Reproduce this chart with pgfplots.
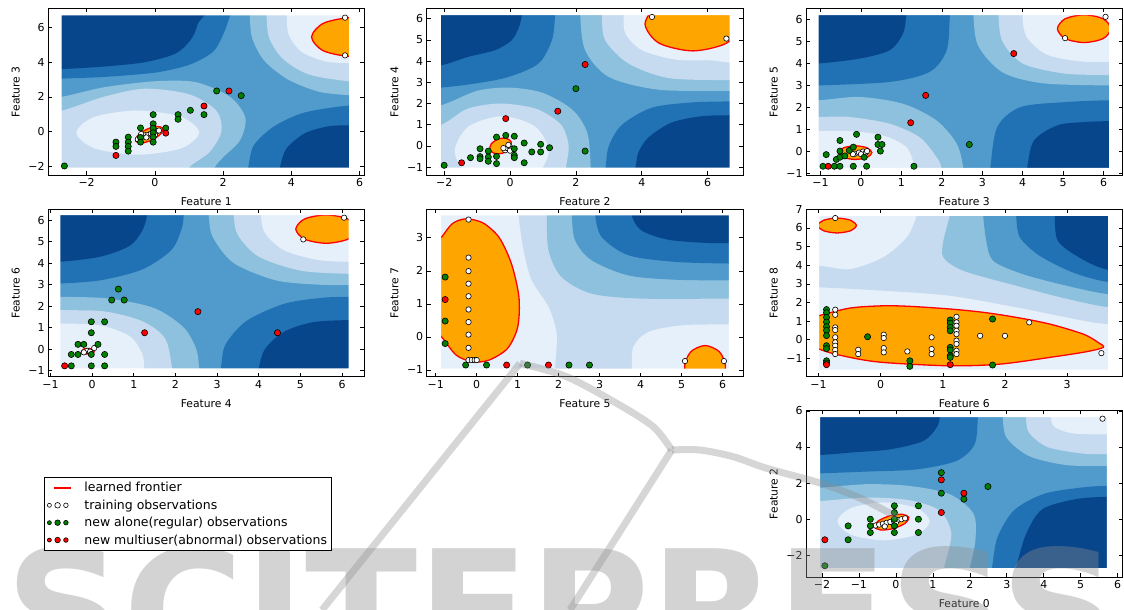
\documentclass[border=0pt]{standalone}
\usepackage{fontspec}
\setmainfont{DejaVu Sans}
\usepackage{pgfplots}
\pgfplotsset{compat=1.18}
\definecolor{c0}{RGB}{8,70,140}
\definecolor{c1}{RGB}{33,113,181}
\definecolor{c2}{RGB}{80,155,203}
\definecolor{c3}{RGB}{141,193,221}
\definecolor{c4}{RGB}{198,219,239}
\definecolor{c5}{RGB}{230,240,250}
\definecolor{myorange}{RGB}{255,165,0}
\definecolor{mgreen}{RGB}{0,128,0}
\definecolor{mred}{RGB}{255,0,0}
\pgfplotsset{
  sub/.style={scale only axis, width=316.5bp, height=167.3bp, anchor=north west,
    axis on top, clip=true,
    tick label style={font=\fontsize{11}{13}\selectfont},
    label style={font=\fontsize{10.8}{13}\selectfont},
    major tick length=4bp, tick style={line width=0.6bp, black},
    axis line style={line width=0.9bp},
    xlabel style={at={(axis description cs:0.5,-0.16)}, anchor=center},
    ylabel style={at={(axis description cs:-0.102,0.5)}, anchor=center},
    axis background/.style={fill=c2}},
  cband/.style={draw=none, fill=#1, smooth cycle, forget plot},
  front/.style={fill=myorange, draw=mred, line width=1.3bp, smooth cycle, forget plot},
  mask/.style={fill=white, draw=none, even odd rule, forget plot},
  train/.style={only marks, mark=*, mark size=2.7bp, mark options={fill=white, draw=black, line width=0.6bp}},
  newg/.style={only marks, mark=*, mark size=3.1bp, mark options={fill=mgreen, draw=black, line width=0.6bp}},
  newr/.style={only marks, mark=*, mark size=3.1bp, mark options={fill=mred, draw=black, line width=0.6bp}},
  wm/.style={forget plot, smooth, line width=7bp, color=black!45, opacity=0.36},
}
\begin{document}
\begin{tikzpicture}
\useasboundingbox (0,0) rectangle (1124bp,-610bp);
% ---------------- Subplot 1: Feature 1 / Feature 3
\begin{axis}[sub, at={(48bp,-8bp)}, xmin=-3.13, xmax=6.14, ymin=-2.54, ymax=7.14,
  xtick={-2,0,2,4,6}, xticklabels={−2,0,2,4,6}, ytick={-2,0,2,4,6}, yticklabels={−2,0,2,4,6},
  xlabel={Feature 1}, ylabel={Feature 3}]
\addplot[cband=c1] coordinates {(-3.6,2.9) (-2.73,3.05) (-1.5,3.15) (0,3.4) (1.0,3.85) (1.7,4.6) (2.0,5.6) (2.2,6.72) (2.3,7.7) (-3.6,7.7)};
\addplot[cband=c0] coordinates {(-3.6,3.5) (-2.73,3.6) (-1.5,3.75) (-0.3,4.0) (0.6,4.5) (1.05,5.3) (1.25,6.2) (1.35,7.7) (-3.6,7.7)};
\addplot[cband=c1] coordinates {(2.6,-3.1) (2.73,-2.1) (2.9,-0.8) (3.5,0.3) (4.4,1.1) (5.69,1.5) (6.6,1.55) (6.6,-3.1)};
\addplot[cband=c0] coordinates {(3.55,-3.1) (3.66,-2.1) (3.85,-1.0) (4.4,-0.1) (5.1,0.3) (5.69,0.35) (6.6,0.4) (6.6,-3.1)};
\addplot[cband=c3] coordinates {(-3.6,1.9) (-2.73,2.0) (-1.5,2.55) (0,2.9) (1.2,2.85) (2.2,2.0) (2.65,0.8) (2.5,-0.5) (2.0,-1.5) (1.75,-2.1) (1.6,-3.1) (-3.6,-3.1)};
\addplot[cband=c4] coordinates {(-3.6,1.1) (-2.73,1.2) (-1.5,2.0) (-0.3,2.47) (1.0,2.15) (1.8,1.2) (1.95,0) (1.6,-1.2) (1.0,-2.1) (0.9,-3.1) (-3.6,-3.1)};
\addplot[cband=c5] coordinates {(1.3,-0.07) (0.77,0.84) (-0.5,1.21) (-1.77,0.84) (-2.3,-0.07) (-1.77,-0.98) (-0.5,-1.35) (0.77,-0.98)};
\addplot[front] coordinates {(0.234,0.174) (0.168,-0.154) (-0.092,-0.508) (-0.395,-0.676) (-0.564,-0.56) (-0.5,-0.232) (-0.24,0.122) (0.063,0.29)};
\addplot[cband=c3] coordinates {(2.78,7.7) (2.78,6.72) (2.85,5.4) (3.2,4.1) (3.9,3.0) (4.8,2.3) (5.69,2.1) (6.6,2.1) (6.6,7.7)};
\addplot[cband=c4] coordinates {(3.27,7.7) (3.27,6.72) (3.35,5.4) (3.75,4.2) (4.5,3.3) (5.69,2.9) (6.6,2.9) (6.6,7.7)};
\addplot[cband=c5] coordinates {(3.86,7.7) (3.86,6.72) (3.92,5.6) (4.3,4.6) (5.0,4.05) (5.69,3.95) (6.6,3.95) (6.6,7.7)};
\addplot[front] coordinates {(7.01,5.46) (6.66,6.26) (5.8,6.59) (4.94,6.26) (4.59,5.46) (4.94,4.66) (5.8,4.33) (6.66,4.66)};
\addplot[mask] coordinates {(-4,-3.5) (7,-3.5) (7,8) (-4,8) (-4,-3.5) (-2.73,-2.1) (-2.73,6.72) (5.69,6.72) (5.69,-2.1) (-2.73,-2.1)};
\addplot[train] coordinates {(-0.5,-0.45) (-0.42,-0.35) (-0.35,-0.3) (-0.28,-0.22) (-0.2,-0.2) (-0.12,-0.12) (-0.05,-0.08) (0.05,0.0) (0.12,0.05) (-0.25,-0.35) (0.0,-0.2) (-0.4,-0.15) (5.57,6.58) (5.57,4.4)};
\addplot[newg] coordinates {(-2.65,-2.0) (-1.14,-0.62) (-1.14,-0.87) (-0.78,-0.33) (-0.78,-0.62) (-0.78,-0.87) (-0.78,-1.14) (-0.42,0.2) (-0.42,-0.35) (-0.42,-0.62) (-0.05,0.97) (-0.05,0.44) (-0.05,0.19) (-0.05,-0.08) (-0.05,-0.33) (-0.05,-0.62) (0.32,0.19) (0.68,0.97) (0.68,0.7) (1.04,1.22) (1.44,0.97) (1.81,2.34) (2.53,2.07)};
\addplot[newr] coordinates {(-1.14,-1.39) (0.32,-0.1) (1.44,1.47) (2.17,2.34)};
\end{axis}
% ---------------- Subplot 2: Feature 2 / Feature 4
\begin{axis}[sub, at={(426.7bp,-8bp)}, xmin=-2.53, xmax=7.08, ymin=-1.38, ymax=6.5,
  xtick={-2,0,2,4,6}, xticklabels={−2,0,2,4,6}, ytick={-1,0,1,2,3,4,5,6}, yticklabels={−1,0,1,2,3,4,5,6},
  xlabel={Feature 2}, ylabel={Feature 4}]
\addplot[cband=c1] coordinates {(-3,2.7) (-2.1,2.75) (-1.07,2.94) (-0.05,3.25) (0.86,3.88) (1.27,4.98) (1.37,6.16) (1.4,7) (-3,7)};
\addplot[cband=c0] coordinates {(-3,3.75) (-2.1,3.8) (-1.27,4.2) (-0.46,4.51) (0.05,4.98) (0.27,5.6) (0.36,6.16) (0.4,7) (-3,7)};
\addplot[cband=c1] coordinates {(2.8,-2) (2.9,-1.02) (3.0,0) (3.4,1.0) (4.3,1.8) (5.5,2.05) (6.67,2.1) (7.6,2.1) (7.6,-2)};
\addplot[cband=c0] coordinates {(3.7,-2) (3.81,-1.02) (3.9,-0.3) (4.2,0.4) (4.9,1.1) (5.8,1.4) (6.67,1.45) (7.6,1.45) (7.6,-2)};
\addplot[cband=c3] coordinates {(-3,1.92) (-2.1,1.92) (-1.0,2.6) (0,2.75) (1.0,2.5) (1.9,1.7) (2.35,0.6) (2.45,-1.02) (2.45,-2) (-3,-2)};
\addplot[cband=c4] coordinates {(-3,1.0) (-2.1,1.0) (-1.3,1.75) (-0.3,2.0) (0.8,1.75) (1.55,1.0) (1.78,0) (1.7,-1.02) (1.7,-2) (-3,-2)};
\addplot[cband=c5] coordinates {(1.18,-0.25) (0.76,0.92) (-0.25,1.4) (-1.26,0.92) (-1.68,-0.25) (-1.26,-1.42) (-0.25,-1.9) (0.76,-1.42)};
\addplot[front] coordinates {(0.04,0.18) (0.0,-0.10) (-0.21,-0.33) (-0.46,-0.36) (-0.61,-0.18) (-0.57,0.10) (-0.36,0.33) (-0.11,0.36)};
\addplot[cband=c3] coordinates {(2.13,7) (2.13,6.16) (2.28,4.51) (3.0,3.25) (4.52,2.65) (6.67,2.6) (7.6,2.6) (7.6,7)};
\addplot[cband=c4] coordinates {(2.79,7) (2.79,6.16) (2.89,4.98) (3.6,3.88) (4.82,3.2) (6.67,3.1) (7.6,3.1) (7.6,7)};
\addplot[cband=c5] coordinates {(3.45,7) (3.45,6.16) (3.5,5.3) (4.01,4.51) (5.03,4.07) (6.04,4.04) (7.6,4.04) (7.6,7)};
\addplot[front] coordinates {(7.0,5.75) (6.58,6.65) (5.55,7.02) (4.52,6.65) (4.1,5.75) (4.52,4.85) (5.55,4.48) (6.58,4.85)};
\addplot[mask] coordinates {(-3.5,-2.5) (8,-2.5) (8,7.5) (-3.5,7.5) (-3.5,-2.5) (-2.1,-1.02) (-2.1,6.16) (6.67,6.16) (6.67,-1.02) (-2.1,-1.02)};
\addplot[train] coordinates {(-0.15,-0.2) (-0.08,-0.1) (0.0,-0.05) (0.05,-0.15) (-0.05,0.05) (-0.2,-0.1) (0.0,-0.22) (4.31,6.08) (6.57,5.06)};
\addplot[newg] coordinates {(-2.0,-0.91) (-1.2,-0.55) (-0.91,-0.13) (-0.91,-0.5) (-0.91,-0.6) (-0.66,-0.24) (-0.66,-0.52) (-0.66,-0.72) (-0.41,0.42) (-0.41,-0.49) (-0.41,-0.83) (-0.13,0.5) (0.13,0.46) (0.13,-0.13) (0.13,-0.44) (0.13,-0.55) (0.43,0.14) (0.43,-0.79) (0.66,-0.28) (0.93,0.08) (0.93,-0.28) (1.2,-0.08) (2.0,2.7) (2.28,-0.24)};
\addplot[newr] coordinates {(-1.47,-0.79) (-0.13,1.29) (1.45,1.64) (2.28,3.84)};
\end{axis}
% ---------------- Subplot 3: Feature 3 / Feature 5
\begin{axis}[sub, at={(806bp,-8bp)}, xmin=-1.36, xmax=6.47, ymin=-1.08, ymax=6.52,
  xtick={-1,0,1,2,3,4,5,6}, xticklabels={−1,0,1,2,3,4,5,6}, ytick={-1,0,1,2,3,4,5,6}, yticklabels={−1,0,1,2,3,4,5,6},
  xlabel={Feature 3}, ylabel={Feature 5}]
\addplot[cband=c1] coordinates {(-2,2.95) (-1.05,3.0) (0.71,3.16) (1.7,3.62) (2.12,4.6) (2.2,6.2) (2.25,7.2) (-2,7.2)};
\addplot[cband=c0] coordinates {(-2,3.95) (-1.05,4.0) (-0.04,4.22) (0.71,4.6) (1.04,5.36) (1.12,6.2) (1.15,7.2) (-2,7.2)};
\addplot[cband=c1] coordinates {(3.15,-1.6) (3.2,-0.74) (3.37,1.11) (3.95,2.02) (5.11,2.25) (6.14,2.33) (7,2.33) (7,-1.6)};
\addplot[cband=c0] coordinates {(4.05,-1.6) (4.11,-0.74) (4.28,0.5) (4.86,1.19) (5.53,1.34) (6.14,1.38) (7,1.38) (7,-1.6)};
\addplot[cband=c3] coordinates {(-2,2.33) (-1.05,2.33) (-0.04,2.48) (1.04,2.17) (1.87,1.41) (2.37,0.35) (2.53,-0.74) (2.55,-1.6) (-2,-1.6)};
\addplot[cband=c4] coordinates {(-2,1.57) (-1.05,1.57) (-0.29,1.57) (0.71,1.26) (1.45,0.65) (1.87,-0.26) (1.99,-0.74) (2.0,-1.6) (-2,-1.6)};
\addplot[cband=c5] coordinates {(-2,0.93) (-1.05,0.93) (-0.29,0.93) (0.54,0.73) (1.12,0.2) (1.33,-0.74) (1.35,-1.6) (-2,-1.6)};
\addplot[front] coordinates {(0.27,-0.05) (0.15,0.17) (-0.14,0.26) (-0.43,0.17) (-0.55,-0.05) (-0.43,-0.27) (-0.14,-0.36) (0.15,-0.27)};
\addplot[cband=c3] coordinates {(2.78,7.2) (2.78,6.2) (2.9,4.8) (3.5,3.6) (4.5,3.1) (6.14,3.0) (7,3.0) (7,7.2)};
\addplot[cband=c4] coordinates {(3.4,7.2) (3.4,6.2) (3.5,5.0) (4.0,4.0) (5.0,3.55) (6.14,3.47) (7,3.47) (7,7.2)};
\addplot[cband=c5] coordinates {(3.99,7.2) (3.99,6.2) (4.1,5.2) (4.6,4.4) (5.4,4.1) (6.14,4.07) (7,4.07) (7,7.2)};
\addplot[front] coordinates {(6.18,5.58) (5.99,6.03) (5.52,6.21) (5.05,6.03) (4.86,5.58) (5.05,5.13) (5.52,4.95) (5.99,5.13)};
\addplot[mask] coordinates {(-2,-2) (7.5,-2) (7.5,7.5) (-2,7.5) (-2,-2) (-1.05,-0.74) (-1.05,6.2) (6.14,6.2) (6.14,-0.74) (-1.05,-0.74)};
\addplot[train] coordinates {(-0.15,-0.1) (-0.05,-0.05) (0.05,0.0) (0.12,-0.05) (0.0,-0.12) (-0.2,-0.12) (0.15,0.02) (5.05,5.15) (6.05,6.12)};
\addplot[newg] coordinates {(-0.94,-0.67) (-0.86,-0.14) (-0.66,-0.67) (-0.61,-0.36) (-0.52,0.5) (-0.52,0.02) (-0.52,-0.26) (-0.52,-0.67) (-0.4,-0.2) (-0.29,0.05) (-0.19,-0.67) (-0.19,0.2) (-0.11,0.78) (0.08,-0.26) (0.14,-0.67) (0.42,0.65) (0.42,0.32) (0.48,0.02) (0.52,0.32) (1.31,-0.67) (2.68,0.32)};
\addplot[newr] coordinates {(-0.81,-0.67) (1.23,1.31) (1.6,2.55) (3.78,4.45)};
\end{axis}
% ---------------- Subplot 4: Feature 4 / Feature 6
\begin{axis}[sub, at={(48bp,-209.3bp)}, xmin=-1.06, xmax=6.54, ymin=-1.28, ymax=6.5,
  xtick={-1,0,1,2,3,4,5,6}, xticklabels={−1,0,1,2,3,4,5,6}, ytick={-1,0,1,2,3,4,5,6}, yticklabels={−1,0,1,2,3,4,5,6},
  xlabel={Feature 4}, ylabel={Feature 6}]
\addplot[cband=c1] coordinates {(-1.8,3.0) (-0.76,3.05) (0.2,3.2) (1.2,3.7) (1.9,4.6) (2.15,5.6) (2.2,6.23) (2.25,7.2) (-1.8,7.2)};
\addplot[cband=c0] coordinates {(-1.8,4.0) (-0.76,4.06) (0.2,4.3) (0.9,4.8) (1.2,5.5) (1.32,6.23) (1.35,7.2) (-1.8,7.2)};
\addplot[cband=c1] coordinates {(3.0,-1.8) (3.09,-0.9) (3.2,0.2) (3.7,1.3) (4.6,2.1) (5.5,2.38) (6.16,2.43) (7,2.43) (7,-1.8)};
\addplot[cband=c0] coordinates {(3.95,-1.8) (4.0,-0.9) (4.15,0.0) (4.6,0.8) (5.3,1.25) (6.16,1.35) (7,1.35) (7,-1.8)};
\addplot[cband=c3] coordinates {(-1.8,2.43) (-0.76,2.43) (0.4,2.35) (1.5,1.9) (2.2,1.0) (2.5,0) (2.57,-0.9) (2.6,-1.8) (-1.8,-1.8)};
\addplot[cband=c4] coordinates {(-1.8,1.81) (-0.76,1.81) (0.3,1.75) (1.2,1.3) (1.75,0.5) (1.92,-0.9) (1.95,-1.8) (-1.8,-1.8)};
\addplot[cband=c5] coordinates {(-1.8,1.19) (-0.76,1.19) (0.2,1.1) (0.9,0.6) (1.2,-0.2) (1.25,-0.9) (1.25,-1.8) (-1.8,-1.8)};
\addplot[front] coordinates {(0.05,-0.1) (-0.01,0.0) (-0.1,0.03) (-0.21,0.0) (-0.25,-0.1) (-0.21,-0.2) (-0.1,-0.23) (0.01,-0.2)};
\addplot[cband=c3] coordinates {(2.8,7.2) (2.8,6.23) (2.9,5.2) (3.4,4.0) (4.4,3.2) (5.4,3.0) (6.16,2.98) (7,2.98) (7,7.2)};
\addplot[cband=c4] coordinates {(3.4,7.2) (3.4,6.23) (3.5,5.3) (4.0,4.3) (5.0,3.65) (6.16,3.5) (7,3.5) (7,7.2)};
\addplot[cband=c5] coordinates {(4.05,7.2) (4.05,6.23) (4.15,5.4) (4.6,4.6) (5.4,4.15) (6.16,4.06) (7,4.06) (7,7.2)};
\addplot[front] coordinates {(6.35,5.58) (6.14,6.05) (5.62,6.24) (5.1,6.05) (4.89,5.58) (5.1,5.11) (5.62,4.92) (6.14,5.11)};
\addplot[mask] coordinates {(-2,-2) (7.5,-2) (7.5,7.5) (-2,7.5) (-2,-2) (-0.76,-0.9) (-0.76,6.23) (6.16,6.23) (6.16,-0.9) (-0.76,-0.9)};
\addplot[train] coordinates {(-0.12,-0.08) (-0.05,-0.12) (0.05,0.05) (-0.2,-0.15) (5.07,5.1) (6.05,6.11)};
\addplot[newg] coordinates {(-0.5,-0.25) (-0.5,-0.78) (-0.34,0.22) (-0.34,-0.25) (-0.2,0.22) (-0.02,1.27) (-0.02,0.76) (-0.02,-0.25) (-0.02,-0.78) (0.14,0.22) (0.3,1.27) (0.3,-0.25) (0.3,-0.78) (0.47,2.28) (0.63,2.79) (0.77,2.28)};
\addplot[newr] coordinates {(-0.66,-0.78) (1.26,0.76) (2.54,1.74) (4.45,0.76)};
\end{axis}
% ---------------- Subplot 5: Feature 5 / Feature 7
\begin{axis}[sub, at={(426.7bp,-209.3bp)}, xmin=-1.22, xmax=6.5, ymin=-1.2, ymax=3.86,
  axis background/.style={fill=c4},
  xtick={-1,0,1,2,3,4,5,6}, xticklabels={−1,0,1,2,3,4,5,6}, ytick={-1,0,1,2,3}, yticklabels={−1,0,1,2,3},
  xlabel={Feature 5}, ylabel={Feature 7}]
\addplot[cband=c5] coordinates {(1.0,4.4) (1.02,3.68) (1.14,2.62) (1.34,1.71) (1.75,0.91) (1.95,0.1) (1.91,-0.96) (1.9,-1.6) (-1.6,-1.6) (-1.6,4.4)};
\addplot[cband=c5] coordinates {(3.75,-1.6) (3.78,-0.96) (3.82,-0.3) (4.19,0.15) (5.0,0.35) (6.15,0.38) (7,0.38) (7,-1.6)};
\addplot[cband=c3] coordinates {(1.71,4.4) (1.71,3.68) (1.75,2.62) (2.07,1.81) (2.8,1.31) (4.02,1.16) (6.15,1.16) (7,1.16) (7,4.4)};
\addplot[cband=c2] coordinates {(2.32,4.4) (2.32,3.68) (2.4,2.92) (2.8,2.32) (3.7,1.86) (4.84,1.73) (6.15,1.71) (7,1.71) (7,4.4)};
\addplot[cband=c1] coordinates {(2.89,4.4) (2.89,3.68) (3.05,3.02) (3.7,2.47) (4.84,2.27) (6.15,2.22) (7,2.22) (7,4.4)};
\addplot[cband=c0] coordinates {(3.78,4.4) (3.78,3.68) (4.02,3.22) (4.67,2.94) (5.65,2.84) (6.15,2.84) (7,2.84) (7,4.4)};
\addplot[front] coordinates {(-1.3,0.6) (-0.87,0.02) (-0.5,-0.55) (-0.1,-0.75) (0.3,-0.7) (0.75,-0.35) (1.0,0.3) (1.03,1.2) (0.85,2.2) (0.55,3.0) (0.15,3.45) (-0.28,3.57) (-0.6,3.42) (-0.87,3.0) (-1.3,2.4)};
\addplot[front] coordinates {(6.07,-0.9) (5.92,-0.45) (5.57,-0.26) (5.22,-0.45) (5.07,-0.9) (5.22,-1.35) (5.57,-1.54) (5.92,-1.35)};
\addplot[mask] coordinates {(-2,-2) (7.5,-2) (7.5,5) (-2,5) (-2,-2) (-0.87,-0.96) (-0.87,3.68) (6.15,3.68) (6.15,-0.96) (-0.87,-0.96)};
\addplot[train] coordinates {(-0.2,3.55) (-0.2,2.4) (-0.2,1.99) (-0.2,1.61) (-0.2,1.23) (-0.2,0.83) (-0.2,0.45) (-0.2,0.07) (-0.2,-0.33) (-0.2,-0.7) (-0.12,-0.7) (-0.05,-0.7) (0.0,-0.7) (5.08,-0.73) (6.03,-0.73)};
\addplot[newg] coordinates {(-0.77,1.81) (-0.77,0.48) (-0.77,-0.2) (-0.27,-0.85) (0.24,-0.85) (1.24,-0.85) (2.25,-0.85) (2.75,-0.85)};
\addplot[newr] coordinates {(-0.77,1.13) (0.73,-0.85) (1.75,-0.85)};
\end{axis}
% ---------------- Subplot 6: Feature 6 / Feature 8
\begin{axis}[sub, at={(806bp,-209.3bp)}, xmin=-1.2, xmax=3.89, ymin=-1.98, ymax=7.0,
  axis background/.style={fill=c5},
  xtick={-1,0,1,2,3}, xticklabels={−1,0,1,2,3}, ytick={-1,0,1,2,3,4,5,6,7}, yticklabels={−1,0,1,2,3,4,5,6,7},
  xlabel={Feature 6}, ylabel={Feature 8}]
\addplot[cband=c4] coordinates {(0.58,7.3) (0.58,6.65) (0.42,5.49) (0.04,4.42) (-0.49,3.79) (-0.99,3.97) (-1.6,4.0) (-1.6,2.8) (-0.99,2.81) (0.04,2.63) (1.11,2.36) (2.18,1.74) (3.26,1.02) (3.66,0.84) (4.3,0.8) (4.3,7.3)};
\addplot[cband=c3] coordinates {(1.11,7.3) (1.11,6.65) (1.01,5.31) (1.01,4.42) (1.33,3.7) (2.18,2.9) (2.99,2.2) (3.66,1.75) (4.3,1.7) (4.3,7.3)};
\addplot[cband=c2] coordinates {(1.65,7.3) (1.65,6.65) (1.7,5.31) (1.81,4.24) (2.29,3.52) (2.99,2.9) (3.66,2.45) (4.3,2.45) (4.3,7.3)};
\addplot[cband=c1] coordinates {(2.18,7.3) (2.18,6.65) (2.24,5.49) (2.56,4.5) (3.1,3.6) (3.66,3.1) (4.3,3.1) (4.3,7.3)};
\addplot[cband=c0] coordinates {(2.8,7.3) (2.8,6.65) (2.85,5.31) (3.2,4.4) (3.66,3.75) (4.3,3.75) (4.3,7.3)};
\addplot[front] coordinates {(-1.4,0.4) (-0.99,-0.5) (-0.49,-0.95) (0.04,-1.22) (1.11,-1.4) (1.92,-1.31) (2.72,-0.95) (3.3,-0.65) (3.58,-0.41) (3.5,-0.15) (3.26,0.3) (2.72,0.84) (2.18,1.2) (1.65,1.47) (1.11,1.65) (0.47,1.79) (0.04,1.82) (-0.49,1.7) (-0.99,1.29) (-1.4,0.9)};
\addplot[front] coordinates {(-0.39,6.13) (-0.48,6.41) (-0.7,6.53) (-0.92,6.41) (-1.01,6.13) (-0.92,5.85) (-0.7,5.73) (-0.48,5.85)};
\addplot[mask] coordinates {(-2,-3) (5,-3) (5,8) (-2,8) (-2,-3) (-0.99,-1.61) (-0.99,6.65) (3.66,6.65) (3.66,-1.61) (-0.99,-1.61)};
\addplot[train] coordinates {(-0.73,6.53) (-0.73,1.61) (-0.73,1.34) (-0.73,0.66) (-0.73,0.52) (-0.73,0.13) (-0.73,-0.14) (-0.73,-0.32) (-0.73,-0.55) (-0.73,-0.77) (-0.36,-0.54) (-0.36,-0.77) (0.05,0.27) (0.05,0.09) (0.05,-0.45) (0.05,-0.68) (0.43,-0.63) (0.82,0.13) (0.82,-0.5) (0.82,-0.77) (1.22,1.23) (1.22,0.93) (1.22,0.75) (1.22,0.48) (1.22,0.3) (1.22,-0.05) (1.22,-0.23) (1.22,-0.59) (1.22,-0.77) (1.6,0.21) (2.0,0.21) (2.39,0.93) (3.55,-0.72)};
\addplot[newg] coordinates {(-0.87,1.62) (-0.87,1.45) (-0.87,1.2) (-0.87,0.95) (-0.87,0.7) (-0.87,0.5) (-0.87,0.22) (-0.87,-0.32) (-0.87,-0.48) (-0.87,-1.13) (-0.87,-1.25) (-0.21,0.16) (0.47,-1.13) (0.47,-1.43) (1.12,1.06) (1.12,0.89) (1.12,0.66) (1.12,0.48) (1.12,-0.41) (1.12,-0.55) (1.12,-0.86) (1.12,-0.95) (1.8,1.11) (1.8,-1.36)};
\addplot[newr] coordinates {(-0.87,-1.34) (1.12,-1.34)};
\end{axis}
% ---------------- Subplot 7: Feature 0 / Feature 2
\begin{axis}[sub, at={(806bp,-410bp)}, xmin=-2.43, xmax=6.13, ymin=-3.22, ymax=6.05,
  xtick={-2,-1,0,1,2,3,4,5,6}, xticklabels={−2,−1,0,1,2,3,4,5,6}, ytick={-2,0,2,4,6}, yticklabels={−2,0,2,4,6},
  xlabel={Feature 0}, ylabel={Feature 2}]
\addplot[cband=c1] coordinates {(-3,2.5) (-2.05,2.54) (-0.78,2.64) (0.56,2.76) (1.64,3.23) (2.13,4.15) (2.22,5.66) (2.25,6.6) (-3,6.6)};
\addplot[cband=c0] coordinates {(-3,3.55) (-2.05,3.56) (-1.23,3.69) (-0.15,3.87) (0.74,4.33) (1.1,5.07) (1.19,5.66) (1.2,6.6) (-3,6.6)};
\addplot[cband=c1] coordinates {(2.55,-3.6) (2.6,-2.71) (2.75,-1.0) (3.2,0.5) (4.0,1.4) (5.0,1.75) (5.71,1.85) (6.6,1.85) (6.6,-3.6)};
\addplot[cband=c0] coordinates {(3.2,-3.6) (3.25,-2.71) (3.52,-0.83) (3.96,0.55) (4.86,1.11) (5.71,1.24) (6.6,1.24) (6.6,-3.6)};
\addplot[cband=c3] coordinates {(-3,1.75) (-2.05,1.75) (-0.78,1.94) (0.38,1.84) (1.46,1.38) (2.1,0.3) (2.15,-1.2) (2.0,-2.71) (1.95,-3.6) (-3,-3.6)};
\addplot[cband=c4] coordinates {(-3,1.01) (-2.05,1.01) (-0.78,1.2) (0.38,1.05) (1.19,0.46) (1.5,-0.83) (1.3,-2.71) (1.25,-3.6) (-3,-3.6)};
\addplot[cband=c5] coordinates {(0.92,-0.12) (0.55,0.62) (-0.33,0.93) (-1.21,0.62) (-1.58,-0.12) (-1.21,-0.86) (-0.33,-1.17) (0.55,-0.86)};
\addplot[front] coordinates {(0.35,0.09) (0.25,-0.23) (-0.07,-0.52) (-0.41,-0.60) (-0.58,-0.42) (-0.48,-0.10) (-0.16,0.19) (0.18,0.27)};
\addplot[cband=c3] coordinates {(2.89,6.6) (2.89,5.66) (3.0,4.5) (3.6,3.5) (4.6,3.0) (5.71,2.95) (6.6,2.95) (6.6,6.6)};
\addplot[cband=c4] coordinates {(3.52,6.6) (3.52,5.66) (3.6,4.8) (4.1,4.0) (5.0,3.65) (5.71,3.6) (6.6,3.6) (6.6,6.6)};
\addplot[cband=c5] coordinates {(4.19,6.6) (4.19,5.66) (4.3,5.1) (4.8,4.75) (5.71,4.7) (6.6,4.7) (6.6,6.6)};
\addplot[mask] coordinates {(-3.5,-4) (7,-4) (7,7) (-3.5,7) (-3.5,-4) (-2.05,-2.71) (-2.05,5.66) (5.71,5.66) (5.71,-2.71) (-2.05,-2.71)};
\addplot[train] coordinates {(-0.55,-0.35) (-0.45,-0.3) (-0.35,-0.25) (-0.25,-0.2) (-0.15,-0.15) (-0.05,-0.1) (0.05,-0.05) (0.15,0.0) (0.25,0.05) (-0.3,-0.4) (0.0,-0.2) (5.59,5.57)};
\addplot[newg] coordinates {(-1.92,-2.58) (-1.29,-0.37) (-1.29,-1.14) (-0.69,0) (-0.69,-0.37) (-0.69,-0.74) (-0.04,0.74) (-0.04,0.37) (-0.04,0) (-0.04,-0.37) (-0.04,-0.74) (0.61,0.74) (0.61,0) (0.61,-0.74) (1.23,2.58) (1.23,1.44) (1.84,1.11) (2.49,1.81)};
\addplot[newr] coordinates {(-1.92,-1.14) (1.23,2.18) (1.23,0.37) (1.84,1.44)};
\end{axis}
% ---------------- Overlay: legend and watermark
\begin{axis}[at={(0bp,-610bp)}, anchor=south west, scale only axis, width=1124bp, height=610bp,
  xmin=0, xmax=1124, ymin=0, ymax=610, hide axis, clip=false,
  legend cell align=left,
  legend style={at={(0.03915,0.2180)}, anchor=north west, draw=black, line width=0.8bp, fill=white,
    font=\fontsize{12.55}{14}\selectfont, inner xsep=2bp, inner ysep=3bp, row sep=2.4bp}]
\addlegendimage{legend image code/.code={\path[draw=none] (0bp,0bp) (36bp,0bp); \draw[mred, line width=1.2bp] (7.5bp,0bp) -- (25bp,0bp);}}
\addlegendentry{learned frontier}
\addlegendimage{legend image code/.code={\path[draw=none] (0bp,0bp) (36bp,0bp); \draw[black, fill=white, line width=0.6bp] (3bp,0bp) circle (2bp) (11.2bp,0bp) circle (2.8bp) (19.5bp,0bp) circle (2.3bp);}}
\addlegendentry{training observations}
\addlegendimage{legend image code/.code={\path[draw=none] (0bp,0bp) (36bp,0bp); \draw[black, fill=mgreen, line width=0.6bp] (3bp,0bp) circle (2bp) (11.2bp,0bp) circle (2.8bp) (19.5bp,0bp) circle (2.3bp);}}
\addlegendentry{new alone(regular) observations}
\addlegendimage{legend image code/.code={\path[draw=none] (0bp,0bp) (36bp,0bp); \draw[black, fill=mred, line width=0.6bp] (3bp,0bp) circle (2bp) (11.2bp,0bp) circle (2.8bp) (19.5bp,0bp) circle (2.3bp);}}
\addlegendentry{new multiuser(abnormal) observations}
\addplot[wm] coordinates {(322,0) (520,246.7)};
\addplot[wm] coordinates {(520,246.7) (566.7,233.3) (616.7,206.7) (653.3,183.3) (671.7,160)};
\addplot[wm] coordinates {(671.7,160) (616.7,73.3) (570,0)};
\addplot[wm] coordinates {(671.7,160) (700,160) (733.3,153.3) (766.7,141.7) (820,127) (860,112) (897,93)};
\node[anchor=base, font=\fontsize{165}{165}\selectfont\bfseries, text=black!45, text opacity=0.38] at (axis cs:562,-58) {SCITEPRESS};
\end{axis}
\end{tikzpicture}
\end{document}
